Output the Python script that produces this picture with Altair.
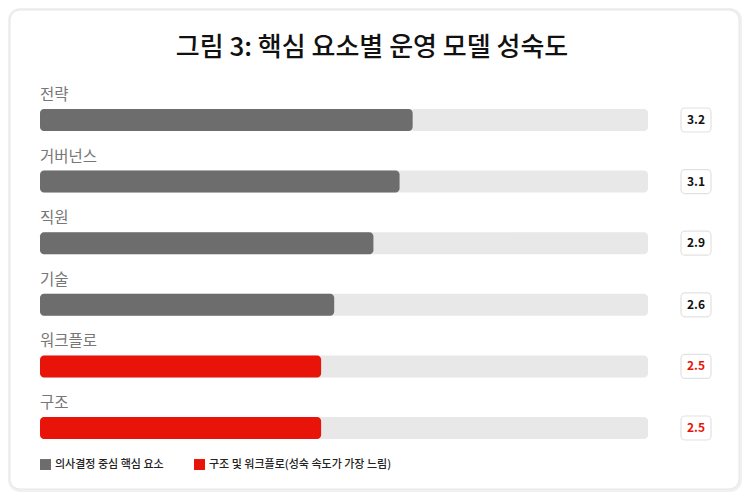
import altair as alt
import pandas as pd

categories = ["전략", "거버넌스", "직원", "기술", "워크플로", "구조"]
values = [3.2, 3.1, 2.9, 2.6, 2.5, 2.5]
labels = ["3.2", "3.1", "2.9", "2.6", "2.5", "2.5"]
group_names = ["의사결정 중심 핵심 요소", "구조 및 워크플로(성숙 속도가 가장 느림)"]
groups = [group_names[0]] * 4 + [group_names[1]] * 2
colors = ["#6d6d6d", "#e8140a"]
title_text = "그림 3: 핵심 요소별 운영 모델 성숙도"

FONT = "Noto Sans CJK KR"

df = pd.DataFrame({"cat": categories, "value": values, "label": labels, "group": groups})

W, H = 734, 484
xscale = alt.Scale(domain=[0.35, 5], range=[32, 640], clamp=False, nice=False, zero=False)
yscale = alt.Scale(domain=categories, range=[81.2, 450.8], paddingInner=0, paddingOuter=0)

base = alt.Chart(df)

shadow = alt.Chart(alt.Data(values=[{}])).mark_rect(
    fill="#f0f0f0", cornerRadius=12
).encode(x=alt.value(0), x2=alt.value(734), y=alt.value(0), y2=alt.value(484))

card = alt.Chart(alt.Data(values=[{}])).mark_rect(
    fill="white", stroke="#e6e6e6", strokeWidth=1, cornerRadius=10
).encode(x=alt.value(2), x2=alt.value(731), y=alt.value(2), y2=alt.value(481))

title = alt.Chart(alt.Data(values=[{"t": title_text}])).mark_text(
    font=FONT, fontSize=26, fontWeight=500, color="#111111", align="center", baseline="middle"
).encode(x=alt.value(364), y=alt.value(40), text="t:N")

track = base.mark_bar(size=22, cornerRadius=4, color="#e8e8e8").encode(
    y=alt.Y("cat:N", scale=yscale, axis=None),
    x=alt.datum(5, scale=xscale, axis=None),
    x2=alt.datum(0.35),
)

bars = base.mark_bar(size=22, cornerRadius=4).encode(
    y=alt.Y("cat:N", scale=yscale, axis=None),
    x=alt.X("value:Q", scale=xscale, axis=None),
    x2=alt.datum(0.35),
    color=alt.Color(
        "group:N",
        scale=alt.Scale(domain=group_names, range=colors),
        legend=alt.Legend(
            title=None, orient="none", legendX=32, legendY=451, direction="horizontal",
            symbolType="square", symbolSize=120, symbolStrokeWidth=0,
            labelFont=FONT, labelFontSize=11, labelFontWeight=500, labelColor="#222222",
            columnPadding=30, labelOffset=4, labelLimit=0,
        ),
    ),
)

cat_labels = base.mark_text(
    font=FONT, fontSize=15.5, color="#777777", align="left", baseline="middle", dy=-25
).encode(
    y=alt.Y("cat:N", scale=yscale, axis=None),
    x=alt.value(32),
    text="cat:N",
)

boxes = base.mark_bar(size=24, cornerRadius=4, fill="white", stroke="#e2e2e2", strokeWidth=1.2).encode(
    y=alt.Y("cat:N", scale=yscale, axis=None),
    x=alt.value(673),
    x2=alt.value(703),
)

val_text = base.mark_text(
    font=FONT, fontSize=12, fontWeight="bold", align="center", baseline="middle"
).encode(
    y=alt.Y("cat:N", scale=yscale, axis=None),
    x=alt.value(688),
    text="label:N",
    color=alt.condition(alt.datum.group == group_names[1], alt.value(colors[1]), alt.value("#111111")),
)

chart = alt.layer(shadow, card, title, track, bars, cat_labels, boxes, val_text).properties(
    width=W, height=H, autosize=alt.AutoSizeParams(type="none"), padding=0, background="white"
).configure_view(stroke=None)

chart.save("out.html", embed_options={"renderer": "svg", "actions": False})
